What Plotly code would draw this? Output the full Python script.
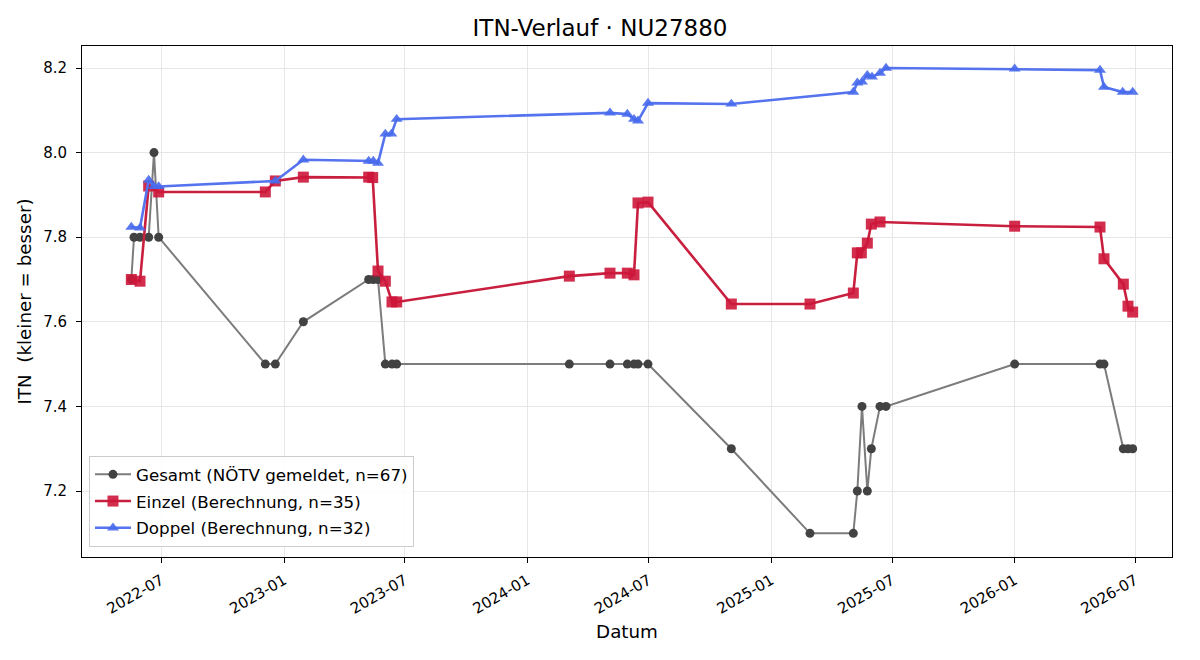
import plotly.graph_objects as go

gesamt_dates = ["2022-05-17", "2022-05-21", "2022-05-30", "2022-06-12", "2022-06-20", "2022-06-27",
                "2022-12-04", "2022-12-19", "2023-01-30", "2023-05-08", "2023-05-15", "2023-05-22",
                "2023-06-02", "2023-06-12", "2023-06-19", "2024-03-04", "2024-05-04", "2024-05-30",
                "2024-06-09", "2024-06-15", "2024-06-30", "2024-11-02", "2025-02-28", "2025-05-04",
                "2025-05-10", "2025-05-17", "2025-05-25", "2025-05-31", "2025-06-13", "2025-06-22",
                "2026-01-01", "2026-05-09", "2026-05-15", "2026-06-13", "2026-06-20", "2026-06-27"]
gesamt_vals = [7.7, 7.8, 7.8, 7.8, 8.0, 7.8,
               7.5, 7.5, 7.6, 7.7, 7.7, 7.7,
               7.5, 7.5, 7.5, 7.5, 7.5, 7.5,
               7.5, 7.5, 7.5, 7.3, 7.1, 7.1,
               7.2, 7.4, 7.2, 7.3, 7.4, 7.4,
               7.5, 7.5, 7.5, 7.3, 7.3, 7.3]

einzel_dates = ["2022-05-17", "2022-05-30", "2022-06-12", "2022-06-27", "2022-12-04", "2022-12-19",
                "2023-01-30", "2023-05-08", "2023-05-14", "2023-05-22", "2023-06-02", "2023-06-12",
                "2023-06-19", "2024-03-04", "2024-05-04", "2024-05-30", "2024-06-09", "2024-06-15",
                "2024-06-30", "2024-11-02", "2025-02-28", "2025-05-04", "2025-05-10", "2025-05-16",
                "2025-05-25", "2025-05-31", "2025-06-13", "2026-01-01", "2026-05-09", "2026-05-15",
                "2026-06-13", "2026-06-20", "2026-06-27"]
einzel_vals = [7.700, 7.696, 7.921, 7.907, 7.907, 7.933,
               7.942, 7.942, 7.941, 7.720, 7.696, 7.647,
               7.647, 7.708, 7.715, 7.715, 7.711, 7.881,
               7.883, 7.642, 7.642, 7.668, 7.763, 7.763,
               7.786, 7.831, 7.836, 7.826, 7.824, 7.749,
               7.689, 7.637, 7.623]

doppel_dates = ["2022-05-17", "2022-05-30", "2022-06-12", "2022-06-20", "2022-06-27", "2022-12-19",
                "2023-01-30", "2023-05-08", "2023-05-15", "2023-05-22", "2023-06-02", "2023-06-11",
                "2023-06-19", "2024-05-04", "2024-05-30", "2024-06-09", "2024-06-15", "2024-06-30",
                "2024-11-02", "2025-05-04", "2025-05-10", "2025-05-17", "2025-05-25", "2025-06-01",
                "2025-06-13", "2025-06-22", "2026-01-01", "2026-05-09", "2026-05-15", "2026-06-12",
                "2026-06-27"]
doppel_vals = [7.824, 7.822, 7.935, 7.920, 7.920, 7.933,
               7.983, 7.980, 7.980, 7.975, 8.044, 8.044,
               8.079, 8.094, 8.091, 8.079, 8.075, 8.117,
               8.115, 8.143, 8.165, 8.167, 8.183, 8.179,
               8.188, 8.200, 8.198, 8.195, 8.155, 8.143,
               8.143]

y_ticks = [7.2, 7.4, 7.6, 7.8, 8.0, 8.2]
x_ticks = ["2022-07-01", "2023-01-01", "2023-07-01", "2024-01-01", "2024-07-01",
           "2025-01-01", "2025-07-01", "2026-01-01", "2026-07-01"]
x_tick_text = ["2022-07", "2023-01", "2023-07", "2024-01", "2024-07",
               "2025-01", "2025-07", "2026-01", "2026-07"]

FONT = "DejaVu Sans"

fig = go.Figure()
fig.add_trace(go.Scatter(
    x=gesamt_dates, y=gesamt_vals, mode="lines+markers",
    name="Gesamt (NÖTV gemeldet, n=67)", legendgroup="g1",
    line=dict(color="#7c7c7c", width=2),
    marker=dict(symbol="circle", size=9, color="#424242"),
))
fig.add_trace(go.Scatter(
    x=einzel_dates, y=einzel_vals, mode="lines+markers",
    name="Einzel (Berechnung, n=35)", legendgroup="g2",
    line=dict(color="#c91f3f", width=2.6),
    marker=dict(symbol="square", size=11, color="rgba(205,22,58,0.9)"),
))
fig.add_trace(go.Scatter(
    x=doppel_dates, y=doppel_vals, mode="lines+markers",
    name="Doppel (Berechnung, n=32)", legendgroup="g3",
    line=dict(color="#5573ee", width=2.6),
    marker=dict(symbol="triangle-up", size=10.5, color="rgba(72,106,236,0.9)"),
))

fig.update_layout(
    width=1200, height=660,
    margin=dict(l=82, r=28, t=46, b=103),
    paper_bgcolor="white", plot_bgcolor="white",
    font=dict(family=FONT, size=15, color="#000"),
    title=dict(text="ITN-Verlauf · NU27880", x=0.5, xanchor="center", y=0.958, yanchor="middle",
               font=dict(family=FONT, size=23)),
    showlegend=True,
    legend=dict(x=0.0064, y=0.0196, xanchor="left", yanchor="bottom",
                bgcolor="rgba(255,255,255,0.85)", bordercolor="#cccccc", borderwidth=1,
                font=dict(family=FONT, size=16.7), tracegroupgap=2, itemwidth=36),
)
fig.update_xaxes(
    range=["2022-03-04", "2026-08-25"],
    tickmode="array", tickvals=x_ticks, ticktext=x_tick_text, tickangle=-30,
    ticks="outside", ticklen=5, tickcolor="#000", ticklabelstandoff=3,
    tickfont=dict(family=FONT, size=15),
    showgrid=True, gridcolor="#e6e6e6", gridwidth=1,
    showline=True, linecolor="#000", linewidth=1, mirror=True,
    zeroline=False,
    title=dict(text="Datum", font=dict(family=FONT, size=18.3), standoff=8),
)
fig.update_yaxes(
    range=[7.044, 8.252],
    tickmode="array", tickvals=y_ticks, ticktext=[f"{v:.1f}" for v in y_ticks],
    ticks="outside", ticklen=5, tickcolor="#000", ticklabelstandoff=6,
    tickfont=dict(family=FONT, size=15),
    showgrid=True, gridcolor="#e6e6e6", gridwidth=1,
    showline=True, linecolor="#000", linewidth=1, mirror=True,
    zeroline=False,
    title=dict(text="ITN  (kleiner = besser)", font=dict(family=FONT, size=18.3), standoff=6),
)

fig.write_html("out.html")
